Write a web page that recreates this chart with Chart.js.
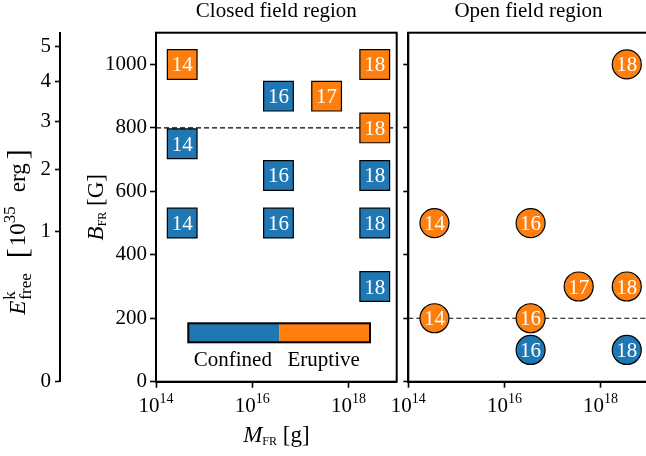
<!DOCTYPE html>
<html>
<head>
<meta charset="utf-8">
<script src="https://cdn.jsdelivr.net/npm/chart.js@4.4.1/dist/chart.umd.min.js"></script>
<style>
    html, body { margin: 0; padding: 0; background: #fff; overflow: hidden; width: 646px; height: 456px; }
    #closedChart { position: absolute; left: 0; top: 0; }
    #openChart { position: absolute; left: 388px; top: 0; }
</style>
</head>
<body>
<canvas id="closedChart" width="400" height="456"></canvas>
<canvas id="openChart" width="268" height="456"></canvas>
<script>
(function () {
    "use strict";

    //------------------------------ data --------------------------
    // closed field region
    var closedConfinedM = [3.5e14, 3.5e16, 3.5e16, 3.5e18, 3.5e14, 3.5e16, 3.5e18, 3.5e18];
    var closedConfinedB = [750, 900, 650, 650, 500, 500, 500, 300];
    var closedEruptiveM = [3.5e14, 3.5e18, 3.5e17, 3.5e18];
    var closedEruptiveB = [1000, 1000, 900, 800];
    // open field region
    var openEruptiveM = [3.5e18, 3.5e14, 3.5e16, 3.5e17, 3.5e18, 3.5e14, 3.5e16];
    var openEruptiveB = [1000, 500, 500, 300, 300, 200, 200];
    var openConfinedM = [3.5e16, 3.5e18];
    var openConfinedB = [100, 100];

    var closedCritB = 800;
    var openCritB = 200;

    var bTicks = [0, 200, 400, 600, 800, 1000];
    var mTicks = [1e14, 1e16, 1e18];
    var eTicks = [0, 1, 2, 3, 4, 5];
    var eUnitB = 472.8;   // B_FR at which E_free = 1 (E ~ B^2)

    var panelTitles = ['Closed field region', 'Open field region'];
    var legendLabels = ['Confined', 'Eruptive'];

    //------------------------------ style --------------------------
    var SERIF = "'Liberation Serif', 'DejaVu Serif', serif";
    var f21 = "21px " + SERIF;
    var f23 = "23px " + SERIF;
    var f30 = "30px " + SERIF;
    var f17 = "17px " + SERIF;
    var f14 = "14px " + SERIF;
    var f12 = "12px " + SERIF;
    var i23 = "italic 23px " + SERIF;
    var blue = '#1f77b4';
    var orange = '#ff7f0e';

    function pts(ms, bs) {
        return ms.map(function (m, i) { return { x: m, y: bs[i] }; });
    }
    function exps(ms) {
        return ms.map(function (m) { return String(Math.floor(Math.log10(m) + 1e-9)); });
    }

    // draw a row of text pieces (with sub / superscripts), centered at x, baseline y
    function drawRuns(ctx, x, y, runs, rot) {
        ctx.save();
        ctx.translate(x, y);
        if (rot) ctx.rotate(-Math.PI / 2);
        ctx.fillStyle = '#000';
        ctx.textBaseline = 'alphabetic';
        ctx.textAlign = 'left';
        var total = 0;
        runs.forEach(function (r) {
            r.w = 0;
            (r.parts || [r]).forEach(function (p) {
                ctx.font = p.font;
                r.w = Math.max(r.w, ctx.measureText(p.t).width);
            });
            total += r.w + (r.gap || 0);
        });
        var cx = -total / 2;
        runs.forEach(function (r) {
            cx += r.gap || 0;
            (r.parts || [r]).forEach(function (p) {
                ctx.font = p.font;
                ctx.fillText(p.t, cx, p.dy || 0);
            });
            cx += r.w;
        });
        ctx.restore();
    }

    //------------------------------ plugins --------------------------
    var panelPlugin = {
        id: 'panel',
        afterDatasetsDraw: function (chart) {
            var ctx = chart.ctx;
            var a = chart.chartArea;
            var o = chart.options.plugins.panel;

            // numbers inside the markers
            ctx.save();
            ctx.fillStyle = '#fff';
            ctx.font = f21;
            ctx.textAlign = 'center';
            ctx.textBaseline = 'alphabetic';
            chart.data.datasets.forEach(function (ds, di) {
                if (!ds.numbers) return;
                chart.getDatasetMeta(di).data.forEach(function (el, i) {
                    ctx.fillText(ds.numbers[i], el.x, el.y + 7);
                });
            });
            ctx.restore();

            // frame
            ctx.save();
            ctx.strokeStyle = '#000';
            ctx.lineWidth = 2;
            ctx.strokeRect(a.left, a.top, a.right - a.left, a.bottom - a.top);
            ctx.restore();

            // title
            drawRuns(ctx, (a.left + a.right) / 2, a.top - 16, [{ t: o.title, font: f21 }]);

            // x tick labels 10^n
            var xs = chart.scales.x;
            mTicks.forEach(function (v) {
                var p = xs.getPixelForValue(v);
                drawRuns(ctx, p, a.bottom + 30, [
                    { t: '10', font: f21 },
                    { t: String(Math.round(Math.log10(v))), font: f14, dy: -9 }
                ]);
            });

            if (!o.main) return;

            // x axis title
            drawRuns(ctx, (a.left + a.right) / 2, a.bottom + 60, [
                { t: 'M', font: i23 },
                { t: 'FR', font: f12, dy: 3 },
                { t: ' [g]', font: f23 }
            ]);
            // B axis title
            drawRuns(ctx, 103, (a.top + a.bottom) / 2, [
                { t: 'B', font: i23 },
                { t: 'FR', font: f12, dy: 3 },
                { t: ' [G]', font: f23 }
            ], true);
            // E axis title
            drawRuns(ctx, 25, 232, [
                { t: 'E', font: i23 },
                { parts: [{ t: 'k', font: f17, dy: -10 }, { t: 'free', font: f17, dy: 6 }], gap: 1 },
                { t: '[', font: f30, dy: 2, gap: 15 },
                { t: '10', font: f23, gap: 2 },
                { t: '35', font: f17, dy: -10 },
                { t: 'erg', font: f23, gap: 14 },
                { t: ']', font: f30, dy: 2, gap: 4 }
            ], true);

            // confined / eruptive bar
            var bx = a.left + 32.3, bw = 181.7, by = a.top + 290.6, bh = 19;
            ctx.save();
            ctx.fillStyle = blue;
            ctx.fillRect(bx, by, bw / 2, bh);
            ctx.fillStyle = orange;
            ctx.fillRect(bx + bw / 2, by, bw / 2, bh);
            ctx.strokeStyle = '#000';
            ctx.lineWidth = 2;
            ctx.strokeRect(bx, by, bw, bh);
            ctx.restore();
            drawRuns(ctx, bx + bw * 0.245, by + 43, [{ t: legendLabels[0], font: f21 }]);
            drawRuns(ctx, bx + bw * 0.745, by + 43, [{ t: legendLabels[1], font: f21 }]);
        }
    };

    //------------------------------ config --------------------------
    function tickGrid(len) {
        return { display: true, drawOnChartArea: false, drawTicks: true, tickLength: len, tickWidth: 1.6, tickColor: '#000' };
    }
    var border = { display: true, width: 2, color: '#000' };

    function markerSet(ms, bs, color, shape) {
        return {
            type: 'scatter',
            data: pts(ms, bs),
            numbers: exps(ms),
            backgroundColor: color,
            borderColor: '#000',
            borderWidth: 1.2,
            pointStyle: shape,
            pointRadius: shape === 'rect' ? 21 : 14.5,
            pointHoverRadius: shape === 'rect' ? 21 : 14.5,
            order: 0
        };
    }
    function critLine(b) {
        return {
            type: 'line',
            data: [{ x: 1e14, y: b }, { x: 1e19, y: b }],
            borderColor: '#000',
            borderWidth: 1.2,
            borderDash: [5, 3],
            pointRadius: 0,
            fill: false,
            order: 10
        };
    }

    function LoadChart(datasets, main, title, padRight) {
        var scales = {
            x: {
                type: 'logarithmic', min: 1e14, max: 1e19,
                afterBuildTicks: function (s) { s.ticks = mTicks.map(function (v) { return { value: v }; }); },
                ticks: { display: false },
                grid: tickGrid(6),
                border: border,
                afterFit: function (s) { s.height = 74.3; }
            },
            y: {
                type: 'linear', position: 'left', min: 0, max: 1100, weight: 0,
                afterBuildTicks: function (s) { s.ticks = bTicks.map(function (v) { return { value: v }; }); },
                ticks: {
                    display: main, color: '#000', font: { family: SERIF, size: 21 }, padding: 3,
                    callback: function (v) { return String(v); }
                },
                grid: tickGrid(main ? 6 : 5),
                border: border,
                afterFit: function (s) { s.width = main ? 96 : 20.3; }
            }
        };
        if (main) {
            scales.e = {
                type: 'linear', position: 'left', min: 0, max: 1100, weight: 1,
                afterBuildTicks: function (s) { s.ticks = eTicks.map(function (e) { return { value: eUnitB * Math.sqrt(e) }; }); },
                ticks: {
                    color: '#000', font: { family: SERIF, size: 21 }, padding: 4,
                    callback: function (v, i) { return String(eTicks[i]); }
                },
                grid: tickGrid(5),
                border: border,
                afterFit: function (s) { s.width = 60; }
            };
        }
        return {
            type: 'scatter',
            data: { datasets: datasets },
            options: {
                responsive: false,
                animation: false,
                events: [],
                layout: { autoPadding: false, padding: { left: 0, top: 32.7, right: padRight, bottom: 0 } },
                scales: scales,
                plugins: {
                    legend: { display: false },
                    tooltip: { enabled: false },
                    panel: { main: main, title: title }
                }
            },
            plugins: [panelPlugin]
        };
    }

    new Chart(document.getElementById('closedChart').getContext('2d'), LoadChart([
        critLine(closedCritB),
        markerSet(closedConfinedM, closedConfinedB, blue, 'rect'),
        markerSet(closedEruptiveM, closedEruptiveB, orange, 'rect')
    ], true, panelTitles[0], 3.3));

    new Chart(document.getElementById('openChart').getContext('2d'), LoadChart([
        critLine(openCritB),
        markerSet(openEruptiveM, openEruptiveB, orange, 'circle'),
        markerSet(openConfinedM, openConfinedB, blue, 'circle')
    ], false, panelTitles[1], 7.3));
})();
</script>
</body>
</html>
